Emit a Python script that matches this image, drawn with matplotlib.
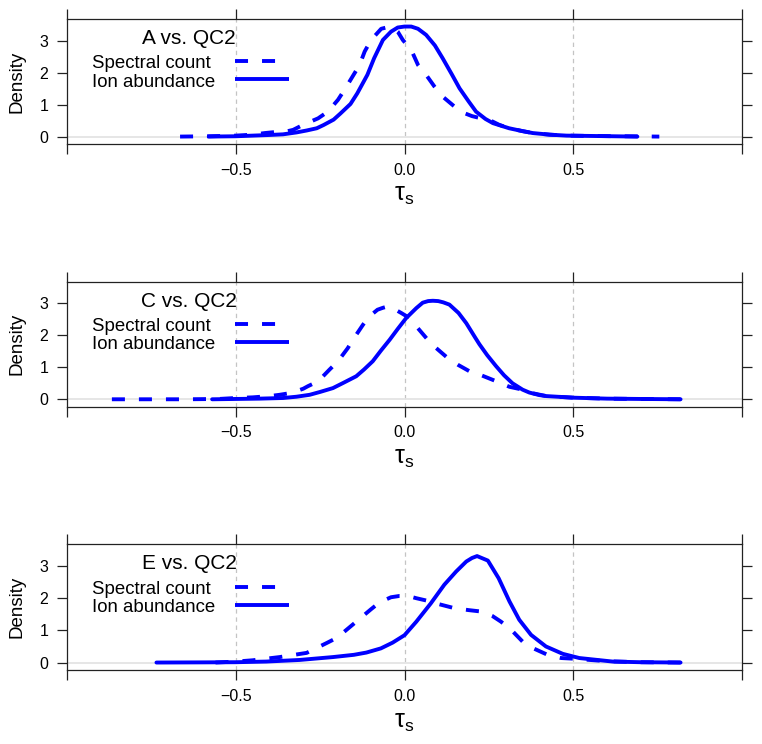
import matplotlib
matplotlib.use("Agg")
import matplotlib.pyplot as plt

plt.rcParams['font.family'] = ['Liberation Sans', 'DejaVu Sans']
plt.rcParams['mathtext.fontset'] = 'custom'
plt.rcParams['mathtext.rm'] = 'Liberation Sans'
plt.rcParams['mathtext.it'] = 'Liberation Sans:italic'

# ---------------- data ----------------
panel_titles = ["A vs. QC2", "C vs. QC2", "E vs. QC2"]
series_labels = ["Spectral count", "Ion abundance"]
x_ticks = [-1.0, -0.5, 0.0, 0.5, 1.0]
x_tick_labels = ["", "\u22120.5", "0.0", "0.5", ""]
y_ticks = [0, 1, 2, 3]
y_tick_labels = ["0", "1", "2", "3"]
x_label = r"$\mathrm{\tau}_{\mathrm{s}}$"
y_label = "Density"

# Panel A
a_ion_x = [-0.58, -0.50, -0.45, -0.40, -0.36, -0.32, -0.29, -0.26, -0.24, -0.21, -0.19, -0.16, -0.14,
           -0.11, -0.09, -0.064, -0.04, -0.02, 0.0, 0.02, 0.04, 0.064, 0.09, 0.113, 0.14, 0.163, 0.19,
           0.212, 0.24, 0.262, 0.28, 0.31, 0.35, 0.38, 0.43, 0.48, 0.55, 0.62, 0.69]
a_ion_y = [0.0, 0.01, 0.03, 0.05, 0.07, 0.13, 0.19, 0.26, 0.36, 0.53, 0.72, 1.02, 1.35,
           1.93, 2.45, 3.02, 3.28, 3.41, 3.44, 3.44, 3.37, 3.18, 2.85, 2.45, 1.95, 1.51, 1.10,
           0.78, 0.55, 0.42, 0.36, 0.26, 0.17, 0.11, 0.06, 0.03, 0.02, 0.01, 0.0]
a_spc_x = [-0.665, -0.58, -0.50, -0.45, -0.414, -0.385, -0.35, -0.33, -0.30, -0.256, -0.227, -0.197,
           -0.178, -0.148, -0.133, -0.118, -0.099, -0.069, -0.05, -0.035, -0.02, -0.005, 0.02, 0.04,
           0.064, 0.089, 0.113, 0.148, 0.178, 0.20, 0.227, 0.261, 0.28, 0.31, 0.35, 0.38, 0.43, 0.48,
           0.55, 0.65, 0.755]
a_spc_y = [0.0, 0.01, 0.03, 0.06, 0.11, 0.14, 0.16, 0.21, 0.37, 0.57, 0.78, 1.15,
           1.46, 1.98, 2.24, 2.66, 3.02, 3.37, 3.42, 3.41, 3.28, 3.02, 2.71, 2.24,
           1.93, 1.56, 1.25, 0.94, 0.73, 0.64, 0.57, 0.47, 0.37, 0.26, 0.17, 0.11, 0.06, 0.03,
           0.02, 0.01, 0.0]

# Panel C
c_ion_x = [-0.57, -0.50, -0.43, -0.36, -0.32, -0.281, -0.25, -0.212, -0.18, -0.143, -0.12, -0.094,
           -0.07, -0.044, -0.02, 0.005, 0.035, 0.054, 0.07, 0.084, 0.10, 0.115, 0.133, 0.16, 0.183,
           0.21, 0.222, 0.245, 0.271, 0.295, 0.32, 0.35, 0.37, 0.40, 0.42, 0.50, 0.60, 0.70, 0.818]
c_ion_y = [0.0, 0.01, 0.02, 0.04, 0.08, 0.14, 0.23, 0.35, 0.52, 0.72, 0.93, 1.19,
           1.52, 1.86, 2.20, 2.54, 2.85, 3.02, 3.07, 3.08, 3.07, 3.03, 2.96, 2.70, 2.38,
           1.92, 1.72, 1.38, 1.04, 0.75, 0.50, 0.30, 0.21, 0.13, 0.10, 0.05, 0.02, 0.01, 0.0]
c_spc_x = [-0.867, -0.75, -0.65, -0.55, -0.50, -0.45, -0.40, -0.37, -0.335, -0.30, -0.286, -0.256,
           -0.222, -0.197, -0.168, -0.153, -0.123, -0.104, -0.08, -0.064, -0.05, -0.035, -0.01,
           0.015, 0.035, 0.069, 0.094, 0.128, 0.158, 0.202, 0.23, 0.275, 0.311, 0.35, 0.37, 0.42,
           0.50, 0.60, 0.70, 0.818]
c_spc_y = [0.0, 0.0, 0.0, 0.01, 0.04, 0.06, 0.10, 0.14, 0.20, 0.33, 0.41, 0.56,
           0.93, 1.19, 1.60, 1.86, 2.33, 2.59, 2.80, 2.86, 2.90, 2.85, 2.70,
           2.54, 2.28, 1.86, 1.60, 1.29, 1.08, 0.82, 0.74, 0.55, 0.39, 0.30, 0.21, 0.10,
           0.05, 0.02, 0.01, 0.0]

# Panel E
e_ion_x = [-0.735, -0.60, -0.50, -0.41, -0.311, -0.212, -0.15, -0.113, -0.07, -0.035, 0.0, 0.035,
           0.078, 0.118, 0.153, 0.183, 0.20, 0.215, 0.247, 0.279, 0.311, 0.340, 0.375, 0.419,
           0.469, 0.518, 0.617, 0.70, 0.818]
e_ion_y = [0.0, 0.005, 0.01, 0.03, 0.08, 0.17, 0.24, 0.31, 0.44, 0.62, 0.85, 1.27,
           1.84, 2.42, 2.83, 3.14, 3.25, 3.31, 3.17, 2.62, 1.90, 1.33, 0.86, 0.50,
           0.27, 0.14, 0.03, 0.01, 0.0]
e_spc_x = [-0.56, -0.50, -0.45, -0.37, -0.29, -0.23, -0.20, -0.151, -0.10, -0.074, -0.04, -0.015,
           0.01, 0.035, 0.068, 0.10, 0.148, 0.19, 0.232, 0.26, 0.286, 0.316, 0.35, 0.38, 0.424,
           0.464, 0.50, 0.55, 0.60, 0.70, 0.818]
e_spc_y = [0.0, 0.03, 0.07, 0.17, 0.30, 0.61, 0.77, 1.20, 1.65, 1.87, 2.03, 2.07,
           2.07, 2.00, 1.92, 1.82, 1.69, 1.63, 1.58, 1.45, 1.27, 1.02, 0.65, 0.45, 0.24,
           0.14, 0.12, 0.08, 0.04, 0.01, 0.0]

panels = [
    (a_spc_x, a_spc_y, a_ion_x, a_ion_y),
    (c_spc_x, c_spc_y, c_ion_x, c_ion_y),
    (e_spc_x, e_spc_y, e_ion_x, e_ion_y),
]

# ---------------- figure ----------------
W, H = 762, 744
fig = plt.figure(figsize=(W / 100, H / 100), dpi=100)

# panel boxes in pixels (left, top, right, bottom)
boxes = [(67, 19, 742, 144), (67, 281.7, 742, 406.7), (67, 544.3, 742, 670)]

blue = "#0000ff"
lw = 2.8
dash = (3.35, 3.6)
box_color = "#222222"

for (l, t, r, b), title, (sx, sy, ix, iy) in zip(boxes, panel_titles, panels):
    ax = fig.add_axes([l / W, 1 - b / H, (r - l) / W, (b - t) / H])
    ax.set_xlim(-1.0, 1.0)
    ax.set_ylim(-0.232, 3.676)

    # reference lines
    for xv in [-0.5, 0.0, 0.5]:
        ax.axvline(xv, color="#c4c4c4", lw=0.9, dashes=(3.5, 3.0), zorder=1)
    ax.axhline(0, color="#e4e4e4", lw=1.3, zorder=1)

    ax.plot(sx, sy, color=blue, lw=lw, dashes=dash, solid_capstyle="butt",
            dash_capstyle="butt", zorder=3)
    ax.plot(ix, iy, color=blue, lw=lw, solid_capstyle="round", zorder=3)

    # ticks
    ax.set_xticks(x_ticks)
    ax.set_xticklabels(x_tick_labels)
    ax.set_yticks(y_ticks)
    ax.set_yticklabels(y_tick_labels)
    ax.tick_params(axis="both", direction="out", length=7, width=0.9, color=box_color,
                   labelsize=11.5, pad=6.5, top=True, right=True, labeltop=False,
                   labelright=False)
    for sp in ax.spines.values():
        sp.set_color(box_color)
        sp.set_linewidth(0.9)

    # axis labels
    ax.text(-0.074, 0.5, y_label, transform=ax.transAxes, rotation=90,
            ha="center", va="center", fontsize=13.5)
    ax.text(0.5, -0.41, x_label, transform=ax.transAxes, ha="center",
            va="center", fontsize=18)

    # key
    ax.text(0.181, 0.80, title, transform=ax.transAxes, ha="center",
            va="baseline", fontsize=15)
    ax.text(0.037, 0.605, series_labels[0], transform=ax.transAxes, ha="left",
            va="baseline", fontsize=13.4)
    ax.text(0.037, 0.459, series_labels[1], transform=ax.transAxes, ha="left",
            va="baseline", fontsize=13.4)
    ax.plot([0.249, 0.329], [0.664, 0.664], transform=ax.transAxes, color=blue,
            lw=lw, dashes=dash, dash_capstyle="butt")
    ax.plot([0.249, 0.329], [0.518, 0.518], transform=ax.transAxes, color=blue,
            lw=lw, solid_capstyle="butt")

fig.savefig("out.png", dpi=100)
